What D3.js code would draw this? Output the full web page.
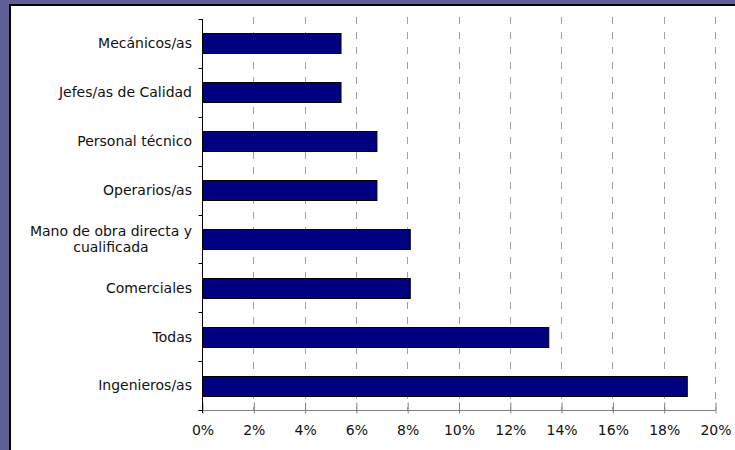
<!DOCTYPE html>
<html>
<head>
<meta charset="utf-8">
<script src="https://cdn.jsdelivr.net/npm/d3@7"></script>
<style>
  html, body { margin: 0; padding: 0; background: #5f5f96; }
  svg { display: block; }
  text { font-family: "DejaVu Sans", Verdana, sans-serif; fill: #111; }
</style>
</head>
<body>
<svg id="chart" width="735" height="450"></svg>
<script>
// Categories listed top to bottom
const categories = [
  "Mecánicos/as",
  "Jefes/as de Calidad",
  "Personal técnico",
  "Operarios/as",
  "Mano de obra directa y|cualificada",
  "Comerciales",
  "Todas",
  "Ingenieros/as"
];
// Share of each category, in percent
const values = [5.4, 5.4, 6.8, 6.8, 8.1, 8.1, 13.5, 18.9];
// Tick values along the x axis, in percent
const xTicks = [0, 2, 4, 6, 8, 10, 12, 14, 16, 18, 20];

const svg = d3.select("#chart");
const W = 735, H = 450;

// Purple frame with a white panel
svg.append("rect").attr("x", 0).attr("y", 0).attr("width", W).attr("height", H).attr("fill", "#5f5f96");
svg.append("rect").attr("x", 10).attr("y", 5).attr("width", W - 9).attr("height", H - 4)
  .attr("fill", "#fff").attr("stroke", "#000").attr("stroke-width", 2);

const plot = { left: 202, right: 715, top: 19, bottom: 410 };

const x = d3.scaleLinear().domain([0, 20]).range([plot.left, plot.right]);
const y = d3.scaleBand().domain(categories).range([plot.top, plot.bottom]).paddingInner(0.59).paddingOuter(0.295);
const yEdges = d3.scaleBand().domain(categories).range([plot.top, plot.bottom]);

// Dashed vertical gridlines
svg.append("g").selectAll("line")
  .data(xTicks.filter(d => d > 0))
  .join("line")
  .attr("x1", d => Math.round(x(d)) + 0.5).attr("x2", d => Math.round(x(d)) + 0.5)
  .attr("y1", plot.top - 2).attr("y2", plot.bottom)
  .attr("stroke", "#a0a0a0").attr("stroke-width", 1)
  .attr("stroke-dasharray", "7,8");

// Bars
svg.append("g").selectAll("rect")
  .data(categories)
  .join("rect")
  .attr("x", x(0) + 0.5)
  .attr("y", d => Math.round(y(d)) + 0.5)
  .attr("width", (d, i) => x(values[i]) - x(0))
  .attr("height", Math.round(y.bandwidth()))
  .attr("fill", "#000080")
  .attr("stroke", "#000").attr("stroke-width", 1);

// X axis (bottom)
const xAxis = svg.append("g")
  .attr("transform", `translate(0.5,${plot.bottom + 0.5})`)
  .call(d3.axisBottom(x).tickValues(xTicks).tickFormat(d => d + "%").tickSizeInner(0).tickSizeOuter(0).tickPadding(15));
xAxis.select(".domain").attr("stroke", "#808080").attr("d", `M${plot.left - 4.5},0H${plot.right}`);
xAxis.selectAll(".tick line").attr("stroke", "#808080").attr("y1", -8).attr("y2", 3);
xAxis.selectAll(".tick text").attr("font-size", "14px").attr("font-family", "DejaVu Sans, Verdana, sans-serif").attr("fill", "#111");

// Y axis (left) with ticks at band edges
const yAxisG = svg.append("g").attr("transform", `translate(${plot.left + 0.5},0)`);
yAxisG.append("line").attr("x1", 0).attr("x2", 0).attr("y1", plot.top).attr("y2", plot.bottom + 3).attr("stroke", "#000");
const edges = categories.map(c => yEdges(c)).concat([plot.bottom]);
yAxisG.selectAll("line.edge").data(edges).join("line").attr("class", "edge")
  .attr("x1", -4).attr("x2", 0)
  .attr("y1", d => Math.round(d) + 0.5).attr("y2", d => Math.round(d) + 0.5)
  .attr("stroke", "#000");

// Category labels
const labelRight = plot.left - 10;
const labels = svg.append("g").selectAll("text")
  .data(categories)
  .join("text")
  .attr("font-size", "14px")
  .attr("text-anchor", "end")
  .attr("x", labelRight)
  .attr("y", d => yEdges(d) + yEdges.bandwidth() / 2);

labels.each(function(d) {
  const parts = d.split("|");
  const t = d3.select(this);
  if (parts.length === 1) {
    t.attr("dy", "0.35em").text(d);
  } else {
    // Two-line label: lines centred on each other, block flush right
    const cy = +t.attr("y");
    const spans = parts.map((p, i) =>
      t.append("tspan").attr("x", labelRight).attr("y", cy + (i - 0.5) * 16.5).attr("dy", "0.35em").text(p));
    const widest = d3.max(spans, s => s.node().getComputedTextLength());
    const cx = labelRight - widest / 2;
    t.attr("text-anchor", "middle");
    spans.forEach(s => s.attr("x", cx));
  }
});
</script>
</body>
</html>
